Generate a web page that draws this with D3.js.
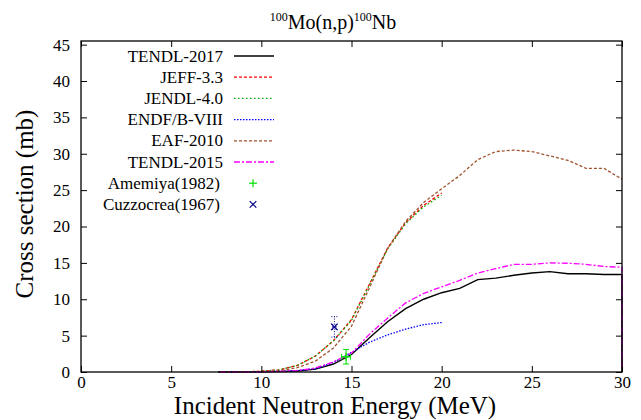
<!DOCTYPE html>
<html>
<head>
<meta charset="utf-8">
<script src="https://cdn.jsdelivr.net/npm/d3@7"></script>
<style>
  body { margin: 0; background: #fff; }
</style>
</head>
<body>
<div id="chart"></div>
<script>
// Data
const tendl2017E = [7.6, 8, 9, 10, 11, 12, 13, 14, 15, 16, 17, 18, 19, 20, 21, 22, 23, 24, 25, 26, 27, 28, 29, 30, 30];
const tendl2017  = [0, 0, 0.01, 0.02, 0.05, 0.13, 0.4, 1.1, 2.4, 4.7, 6.9, 8.7, 10.0, 10.9, 11.5, 12.7, 12.9, 13.3, 13.6, 13.8, 13.5, 13.5, 13.4, 13.4, 0];

const jeffE  = [7.8, 8, 9, 10, 11, 12, 13, 14, 15, 16, 17, 18, 19, 20];
const jeff33 = [0, 0, 0.02, 0.1, 0.3, 0.9, 2.2, 4.3, 7.2, 12.1, 17.0, 20.5, 22.9, 24.6];

const jendlE  = [7.8, 8, 9, 10, 11, 12, 13, 14, 15, 16, 17, 18, 19, 20];
const jendl40 = [0, 0, 0.02, 0.1, 0.3, 0.9, 2.2, 4.3, 7.1, 12.0, 16.9, 20.4, 22.7, 24.3];

const endfE   = [7.8, 8, 9, 10, 11, 12, 13, 14, 15, 16, 17, 18, 19, 20];
const endfb80 = [0, 0, 0.01, 0.03, 0.1, 0.2, 0.45, 1.3, 2.7, 4.1, 5.1, 5.9, 6.5, 6.8];

const eafE    = [7.8, 8, 9, 10, 11, 12, 13, 14, 15, 16, 17, 18, 19, 20, 21, 22, 23, 24, 25, 26, 27, 28, 29, 30];
const eaf2010 = [0, 0, 0.01, 0.05, 0.15, 0.6, 1.5, 3.3, 6.3, 11.6, 17.0, 20.7, 23.3, 25.2, 27.0, 29.2, 30.3, 30.5, 30.3, 29.7, 29.1, 28.0, 28.0, 26.5];

const tendl2015E = [7.7, 8, 9, 10, 11, 12, 13, 14, 15, 16, 17, 18, 19, 20, 21, 22, 23, 24, 25, 26, 27, 28, 29, 30, 30];
const tendl2015  = [0, 0, 0.01, 0.03, 0.08, 0.2, 0.55, 1.4, 2.6, 5.2, 7.4, 9.5, 10.8, 11.7, 12.6, 13.6, 14.2, 14.8, 14.8, 15.0, 14.95, 14.8, 14.5, 14.4, 0];

// experimental points: energy, value, energy error, value error
const amemiyaE = [14.7];
const amemiya = [2.1];
const amemiyaDE = [0.25];
const amemiyaDY = [1.0];

const cuzzocreaE = [14.05];
const cuzzocrea = [6.2];
const cuzzocreaDE = [0.1];
const cuzzocreaDY = [1.4];

const xTicks = [0, 5, 10, 15, 20, 25, 30];
const yTicks = [0, 5, 10, 15, 20, 25, 30, 35, 40, 45];

const width = 641, height = 420;
const margin = { top: 41, right: 19, bottom: 48, left: 81 };
const serif = "Liberation Serif";

const svg = d3.select("#chart").append("svg")
    .attr("width", width)
    .attr("height", height);

const x = d3.scaleLinear().domain([0, 30]).range([margin.left, width - margin.right]);
const y = d3.scaleLinear().domain([0, 45.5]).range([height - margin.bottom, margin.top]);

const line = d3.line().x(d => x(d[0])).y(d => y(d[1]));

const series = [
    { name: "TENDL-2017", e: tendl2017E, v: tendl2017, color: "#000000", dash: null, w: 1.4 },
    { name: "JEFF-3.3", e: jeffE, v: jeff33, color: "#ff0000", dash: "3,2", w: 1.3 },
    { name: "JENDL-4.0", e: jendlE, v: jendl40, color: "#00b000", dash: "1.5,2.5", w: 1.3 },
    { name: "ENDF/B-VIII", e: endfE, v: endfb80, color: "#0000ff", dash: "1.5,1.5", w: 1.3 },
    { name: "EAF-2010", e: eafE, v: eaf2010, color: "#a0522d", dash: "3,2", w: 1.3 },
    { name: "TENDL-2015", e: tendl2015E, v: tendl2015, color: "#ff00ff", dash: "6,2,2,2", w: 1.3 }
];

// Curves
const plot = svg.append("g");
series.forEach(s => {
    plot.append("path")
        .datum(s.e.map((e, i) => [e, s.v[i]]))
        .attr("fill", "none")
        .attr("stroke", s.color)
        .attr("stroke-width", s.w)
        .attr("stroke-dasharray", s.dash)
        .attr("d", line);
});

// Error bar points
function errorPoints(E, V, DE, DY, color, dash, marker) {
    E.forEach((e, i) => {
        const g = svg.append("g").attr("stroke", color).attr("stroke-width", 1).attr("stroke-dasharray", dash);
        const cx = x(e), cy = y(V[i]);
        g.append("line").attr("x1", cx).attr("x2", cx).attr("y1", y(V[i] - DY[i])).attr("y2", y(V[i] + DY[i]));
        g.append("line").attr("x1", x(e - DE[i])).attr("x2", x(e + DE[i])).attr("y1", cy).attr("y2", cy);
        [V[i] - DY[i], V[i] + DY[i]].forEach(v => {
            g.append("line").attr("x1", cx - 3).attr("x2", cx + 3).attr("y1", y(v)).attr("y2", y(v));
        });
        [e - DE[i], e + DE[i]].forEach(v => {
            g.append("line").attr("x1", x(v)).attr("x2", x(v)).attr("y1", cy - 3).attr("y2", cy + 3);
        });
        drawMarker(svg, marker, cx, cy, color);
    });
}

function drawMarker(sel, type, cx, cy, color) {
    const g = sel.append("g").attr("stroke", color).attr("stroke-width", 1.2);
    const r = 4;
    if (type === "plus") {
        g.append("line").attr("x1", cx - r).attr("x2", cx + r).attr("y1", cy).attr("y2", cy);
        g.append("line").attr("x1", cx).attr("x2", cx).attr("y1", cy - r).attr("y2", cy + r);
    } else {
        g.append("line").attr("x1", cx - 3.3).attr("x2", cx + 3.3).attr("y1", cy - 3.3).attr("y2", cy + 3.3);
        g.append("line").attr("x1", cx - 3.3).attr("x2", cx + 3.3).attr("y1", cy + 3.3).attr("y2", cy - 3.3);
    }
}

errorPoints(amemiyaE, amemiya, amemiyaDE, amemiyaDY, "#00e000", null, "plus");
errorPoints(cuzzocreaE, cuzzocrea, cuzzocreaDE, cuzzocreaDY, "#00008b", "1,1.5", "cross");

// Axes with inward ticks, mirrored
svg.append("g")
    .attr("transform", `translate(0,${height - margin.bottom})`)
    .call(d3.axisBottom(x).tickValues(xTicks).tickSizeInner(-6).tickSizeOuter(0).tickPadding(4))
    .call(g => g.select(".domain").remove())
    .call(g => g.selectAll("text").attr("font-family", serif).attr("font-size", 17));

svg.append("g")
    .attr("transform", `translate(0,${margin.top})`)
    .call(d3.axisTop(x).tickValues(xTicks).tickSizeInner(-6).tickSizeOuter(0).tickFormat(""))
    .call(g => g.select(".domain").remove());

svg.append("g")
    .attr("transform", `translate(${margin.left},0)`)
    .call(d3.axisLeft(y).tickValues(yTicks).tickSizeInner(-6).tickSizeOuter(0).tickPadding(11))
    .call(g => g.select(".domain").remove())
    .call(g => g.selectAll("text").attr("font-family", serif).attr("font-size", 17));

svg.append("g")
    .attr("transform", `translate(${width - margin.right},0)`)
    .call(d3.axisRight(y).tickValues(yTicks).tickSizeInner(-6).tickSizeOuter(0).tickFormat(""))
    .call(g => g.select(".domain").remove());

svg.append("rect")
    .attr("x", margin.left).attr("y", margin.top)
    .attr("width", width - margin.left - margin.right)
    .attr("height", height - margin.top - margin.bottom)
    .attr("fill", "none").attr("stroke", "#000").attr("stroke-width", 1.3);

// Title
const title = svg.append("text").attr("x", 333).attr("y", 29).attr("text-anchor", "middle")
    .attr("font-family", serif).attr("font-size", 20);
title.append("tspan").attr("font-family", serif).attr("font-size", 12).attr("dy", -8).text("100");
title.append("tspan").attr("font-family", serif).attr("font-size", 20).attr("dy", 8).text("Mo(n,p)");
title.append("tspan").attr("font-family", serif).attr("font-size", 12).attr("dy", -8).text("100");
title.append("tspan").attr("font-family", serif).attr("font-size", 20).attr("dy", 8).text("Nb");

// Axis labels
svg.append("text")
    .attr("x", 335).attr("y", 414)
    .attr("text-anchor", "middle").attr("font-family", serif).attr("font-size", 25)
    .text("Incident Neutron Energy (MeV)");

svg.append("text")
    .attr("transform", "translate(33,204) rotate(-90)")
    .attr("text-anchor", "middle").attr("font-family", serif).attr("font-size", 25)
    .text("Cross section (mb)");

// Legend
const legY0 = 56, legDy = 21.2;
const legend = svg.append("g");
series.forEach((s, i) => {
    const ly = legY0 + i * legDy;
    legend.append("text").attr("x", 223).attr("y", ly + 5.5).attr("text-anchor", "end")
        .attr("font-family", serif).attr("font-size", 17).text(s.name);
    legend.append("line").attr("x1", 234).attr("x2", 274).attr("y1", ly).attr("y2", ly)
        .attr("stroke", s.color).attr("stroke-width", s.w).attr("stroke-dasharray", s.dash);
});
const pts = [["Amemiya(1982)", "#00e000", "plus"], ["Cuzzocrea(1967)", "#00008b", "cross"]];
pts.forEach((p, j) => {
    const ly = legY0 + (series.length + j) * legDy;
    legend.append("text").attr("x", 220).attr("y", ly + 5.5).attr("text-anchor", "end")
        .attr("font-family", serif).attr("font-size", 17).text(p[0]);
    drawMarker(legend, p[2], 253, ly, p[1]);
});
</script>
</body>
</html>
